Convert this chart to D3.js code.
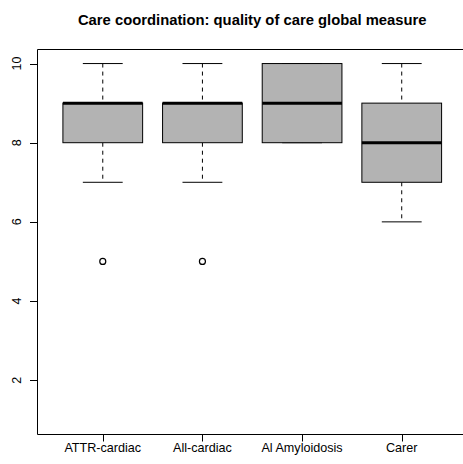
<!DOCTYPE html>
<html>
<head>
<meta charset="utf-8">
<script src="https://cdn.jsdelivr.net/npm/d3@7"></script>
<style>
  html, body { margin: 0; background: #fff; overflow: hidden; }
  svg { display: block; font-family: "Liberation Sans", Arial, sans-serif; }
</style>
</head>
<body>
<svg id="chart"></svg>
<script>
const width = 463;
const height = 464;

// groups shown along the x axis
const categories = ["ATTR-cardiac", "All-cardiac", "Al Amyloidosis", "Carer"];
// box statistics
const lowerWhisker = [7, 7, 8, 6];
const lowerQuartile = [8, 8, 8, 7];
const medians = [9, 9, 9, 8];
const upperQuartile = [9, 9, 10, 9];
const upperWhisker = [10, 10, 10, 10];
// outlying points: [group index, value]
const outliers = [[0, 5], [1, 5]];
const yTicks = [2, 4, 6, 8, 10];

const svg = d3.select("#chart").attr("width", width).attr("height", height);

const x = d3.scaleLinear().domain([0.34, 4.66]).range([37, 467.5]);
const y = d3.scaleLinear().domain([0.64, 10.36]).range([434, 49.3]);

const step = x(2) - x(1);
const boxW = step * 0.8;
const capW = boxW / 2;

// frame: left, top and bottom only (the right side lies past the window)
const frame = svg.append("g").attr("stroke", "black");
frame.append("line").attr("x1", 37.5).attr("x2", 37.5).attr("y1", 49.5).attr("y2", 434.5);
frame.append("line").attr("x1", 37.5).attr("x2", width).attr("y1", 49.5).attr("y2", 49.5);
frame.append("line").attr("x1", 37.5).attr("x2", width).attr("y1", 434.5).attr("y2", 434.5);

// y axis
const yAxis = svg.append("g");
yAxis.selectAll("line")
  .data(yTicks)
  .enter()
  .append("line")
  .attr("x1", 30).attr("x2", 37)
  .attr("y1", d => Math.round(y(d)) + 0.5)
  .attr("y2", d => Math.round(y(d)) + 0.5)
  .attr("stroke", "black");
yAxis.selectAll("text")
  .data(yTicks)
  .enter()
  .append("text")
  .attr("transform", d => `translate(21,${y(d)}) rotate(-90)`)
  .attr("text-anchor", "middle")
  .attr("font-size", 12.5)
  .text(d => d);

// x axis
const xAxis = svg.append("g");
xAxis.selectAll("line")
  .data(categories)
  .enter()
  .append("line")
  .attr("x1", (d, i) => Math.round(x(i + 1)) + 0.5)
  .attr("x2", (d, i) => Math.round(x(i + 1)) + 0.5)
  .attr("y1", 434).attr("y2", 441.5)
  .attr("stroke", "black");
xAxis.selectAll("text")
  .data(categories)
  .enter()
  .append("text")
  .attr("x", (d, i) => x(i + 1))
  .attr("y", 451.5)
  .attr("text-anchor", "middle")
  .attr("font-size", 12.6)
  .text(d => d);

// boxes
const boxes = svg.selectAll("g.box")
  .data(categories)
  .enter()
  .append("g")
  .attr("class", "box");

// dashed whiskers
boxes.append("line")
  .attr("x1", (d, i) => x(i + 1)).attr("x2", (d, i) => x(i + 1))
  .attr("y1", (d, i) => y(upperWhisker[i])).attr("y2", (d, i) => y(upperQuartile[i]))
  .attr("stroke", "black")
  .attr("stroke-dasharray", "4,4");
boxes.append("line")
  .attr("x1", (d, i) => x(i + 1)).attr("x2", (d, i) => x(i + 1))
  .attr("y1", (d, i) => y(lowerQuartile[i])).attr("y2", (d, i) => y(lowerWhisker[i]))
  .attr("stroke", "black")
  .attr("stroke-dasharray", "4,4");

// caps
boxes.append("line")
  .attr("x1", (d, i) => x(i + 1) - capW / 2).attr("x2", (d, i) => x(i + 1) + capW / 2)
  .attr("y1", (d, i) => y(upperWhisker[i])).attr("y2", (d, i) => y(upperWhisker[i]))
  .attr("stroke", "black");
boxes.append("line")
  .attr("x1", (d, i) => x(i + 1) - capW / 2).attr("x2", (d, i) => x(i + 1) + capW / 2)
  .attr("y1", (d, i) => y(lowerWhisker[i])).attr("y2", (d, i) => y(lowerWhisker[i]))
  .attr("stroke", "black");

boxes.append("rect")
  .attr("x", (d, i) => x(i + 1) - boxW / 2)
  .attr("width", boxW)
  .attr("y", (d, i) => y(upperQuartile[i]))
  .attr("height", (d, i) => y(lowerQuartile[i]) - y(upperQuartile[i]))
  .attr("fill", "#b3b3b3")
  .attr("stroke", "black");

// medians
boxes.append("line")
  .attr("x1", (d, i) => x(i + 1) - boxW / 2).attr("x2", (d, i) => x(i + 1) + boxW / 2)
  .attr("y1", (d, i) => y(medians[i])).attr("y2", (d, i) => y(medians[i]))
  .attr("stroke", "black")
  .attr("stroke-width", 3);

// outliers
svg.selectAll("circle.out")
  .data(outliers)
  .enter()
  .append("circle")
  .attr("class", "out")
  .attr("cx", d => x(d[0] + 1))
  .attr("cy", d => y(d[1]))
  .attr("r", 3)
  .attr("fill", "none")
  .attr("stroke", "black")
  .attr("stroke-width", 1.2);

// title
svg.append("text")
  .attr("x", (x.range()[0] + x.range()[1]) / 2)
  .attr("y", 25)
  .attr("text-anchor", "middle")
  .attr("font-size", 14.8)
  .attr("font-weight", "bold")
  .text("Care coordination: quality of care global measure");
</script>
</body>
</html>
